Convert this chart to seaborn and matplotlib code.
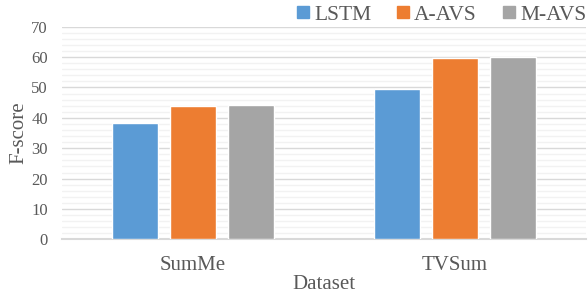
import pandas as pd
import numpy as np
import matplotlib.pyplot as plt
import seaborn as sns
from matplotlib.ticker import MultipleLocator

datasets = ['SumMe', 'TVSum']
methods = ['LSTM', 'A-AVS', 'M-AVS']
lstm = [38.4, 49.4]
a_avs = [43.9, 59.7]
m_avs = [44.3, 59.9]
colors = ['#5B9BD5', '#ED7D31', '#A5A5A5']

df = pd.DataFrame({
    'Dataset': datasets * 3,
    'Method': ['LSTM'] * 2 + ['A-AVS'] * 2 + ['M-AVS'] * 2,
    'F-score': lstm + a_avs + m_avs,
})

sns.set_theme(style='white')
plt.rcParams['font.family'] = ['Liberation Serif', 'DejaVu Serif']

fig = plt.figure(figsize=(5.88, 2.94), dpi=100)
ax = fig.add_axes([0.105, 0.186, 0.892, 0.723])
sns.barplot(data=df, x='Dataset', y='F-score', hue='Method', hue_order=methods,
            palette=colors, width=0.664, gap=0.21, saturation=1, ax=ax, zorder=3)

ax.set_ylim(0, 70)
ax.set_xlim(-0.5, 1.5)
ax.yaxis.set_major_locator(MultipleLocator(10))
ax.yaxis.set_minor_locator(MultipleLocator(2))
ax.grid(axis='y', which='major', color='#D9D9D9', linewidth=1.0, zorder=0)
ax.grid(axis='y', which='minor', color='#F2F2F2', linewidth=1.0, zorder=0)
ax.set_axisbelow(True)
for s in ['left', 'right', 'top']:
    ax.spines[s].set_visible(False)
ax.spines['bottom'].set_color('#D9D9D9')
ax.spines['bottom'].set_linewidth(1.5)
ax.tick_params(axis='both', length=0)
ax.tick_params(axis='y', labelsize=12, labelcolor='#595959', pad=10)
ax.tick_params(axis='x', labelsize=15, labelcolor='#595959', pad=12)
ax.set_ylabel('F-score', fontsize=15, color='#595959', labelpad=2)
ax.set_xlabel('Dataset', fontsize=15, color='#595959', labelpad=0)

handles = [plt.Line2D([], [], marker='s', linestyle='', markersize=9, color=c) for c in colors]
fig.legend(handles, methods, loc='upper right', bbox_to_anchor=(1.03, 1.05), ncol=3,
           frameon=False, fontsize=15.5, handlelength=0.8, handletextpad=0.1,
           columnspacing=1.1, labelcolor='#595959')
ax.get_legend().remove()

plt.savefig('out.png', dpi=100)
